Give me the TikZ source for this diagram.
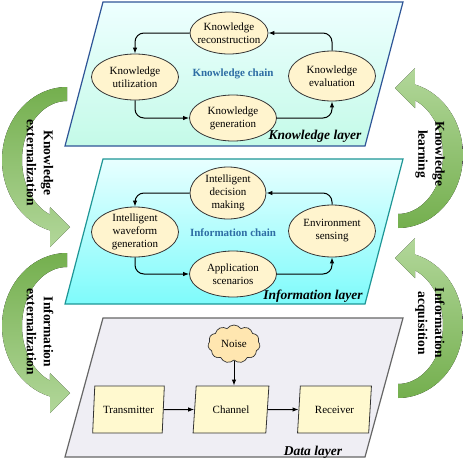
\documentclass[tikz,border=0pt]{standalone}
\usepackage{fontspec}
\setmainfont{Liberation Serif}
\usetikzlibrary{shapes.geometric,shapes.symbols,arrows.meta}
\definecolor{kborder}{HTML}{2F5597}
\definecolor{ktop}{HTML}{EEFFFF}
\definecolor{kbot}{HTML}{C4FAE8}
\definecolor{iborder}{HTML}{1E9696}
\definecolor{itop}{HTML}{E8FFFF}
\definecolor{ibot}{HTML}{7EFBFB}
\definecolor{dborder}{HTML}{666666}
\definecolor{dfill}{HTML}{EFEEF4}
\definecolor{ellfill}{HTML}{FFF4CE}
\definecolor{boxfill}{HTML}{FFF9CF}
\definecolor{cloudfill}{HTML}{FFE6B0}
\definecolor{chainblue}{HTML}{2E6DA4}
\definecolor{gdark}{HTML}{74AF4E}
\definecolor{glight}{HTML}{B2D79A}
\newcommand{\leftgreen}[1]{%
  \fill[top color=gdark, bottom color=glight]
    plot[domain=270:105,samples=50] ({67+65*cos(\x)},{#1+160+73*sin(\x)})
    -- (50,#1+247) -- (70,#1+227) -- (50,#1+207)
    -- plot[domain=112.2:270,samples=50] ({67+45*cos(\x)},{#1+160+59*sin(\x)})
    -- cycle;}
\newcommand{\rightgreen}[1]{%
  \fill[top color=glight, bottom color=gdark]
    plot[domain=450:285,samples=50] ({398+65*cos(\x)},{#1+155+73*sin(\x)})
    -- (415,#1+68) -- (395,#1+88) -- (415,#1+108)
    -- plot[domain=292.2:450,samples=50] ({398+45*cos(\x)},{#1+155+59*sin(\x)})
    -- cycle;}
\begin{document}
\begin{tikzpicture}[x=1pt,y=-1pt,
  ell/.style={ellipse, draw=black!80, line width=0.8pt, fill=ellfill, inner sep=0pt},
  etxt/.style={align=center, font=\fontsize{11}{13}\selectfont, inner sep=0pt},
  chainarr/.style={-{Latex[length=6pt,width=4.5pt]}, line width=1pt, rounded corners=9pt},
  dataarr/.style={-{Latex[length=6pt,width=4.5pt]}, line width=1pt},
  chainlbl/.style={font=\fontsize{11}{13}\selectfont\bfseries, text=chainblue},
  layerlbl/.style={font=\fontsize{13.5}{16}\selectfont\bfseries\itshape},
  greentxt/.style={rotate=-90, align=center, font=\fontsize{13.5}{17}\selectfont\bfseries},
  dbox/.style={trapezium, trapezium left angle=80, trapezium right angle=100, trapezium stretches=true,
    draw=black!80, line width=0.8pt, fill=boxfill, minimum height=47pt, inner sep=1pt,
    font=\fontsize{11}{13}\selectfont}
]
\fill[white] (0,0) rectangle (464,464);
\useasboundingbox (0,0) rectangle (464,464);

% layers
\draw[kborder, line width=1.2pt, top color=ktop, bottom color=kbot]
  (103,2) -- (403,2) -- (365,146) -- (65,146) -- cycle;
\draw[iborder, line width=1.2pt, top color=itop, bottom color=ibot]
  (103,159) -- (403,159) -- (365,304) -- (65,304) -- cycle;
\draw[dborder, line width=1.2pt, fill=dfill]
  (103,318) -- (403,318) -- (365,457) -- (65,457) -- cycle;

% green arrows
\leftgreen{0}
\leftgreen{166}
\rightgreen{0}
\rightgreen{170}
\node[greentxt] (tke) at (40,163) {Knowledge\\externalization};
\node[greentxt] (tie) at (40,332) {Information\\externalization};
\node[greentxt] (tkl) at (430,154) {Knowledge\\learning};
\node[greentxt] (tia) at (430,323) {Information\\acquisition};

% knowledge layer
\node[ell, minimum width=78pt, minimum height=42pt, label={[etxt]center:Knowledge\\reconstruction}] (recon) at (229,33) {};
\node[ell, minimum width=87pt, minimum height=46pt, label={[etxt]center:Knowledge\\utilization}] (util) at (135,77) {};
\node[ell, minimum width=87pt, minimum height=46pt, label={[etxt]center:Knowledge\\generation}] (gen) at (233,118) {};
\node[ell, minimum width=87pt, minimum height=50pt, label={[etxt]center:Knowledge\\evaluation}] (eval) at (332,76) {};
\node[chainlbl] (kchain) at (233,74) {Knowledge chain};
\node[layerlbl] (klayer) at (315,136) {Knowledge layer};
\draw[chainarr] (recon.west) -| (util.north);
\draw[chainarr] (util.south) |- (gen.west);
\draw[chainarr] (gen.east) -| (eval.south);
\draw[chainarr] (eval.north) |- (recon.east);

% information layer
\node[ell, minimum width=76pt, minimum height=52pt, label={[etxt]center:Intelligent\\decision\\making}] (dec) at (228,193) {};
\node[ell, minimum width=87pt, minimum height=50pt, label={[etxt]center:Intelligent\\waveform\\generation}] (wave) at (135,232) {};
\node[ell, minimum width=87pt, minimum height=46pt, label={[etxt]center:Application\\scenarios}] (app) at (233,274) {};
\node[ell, minimum width=87pt, minimum height=52pt, label={[etxt]center:Environment\\sensing}] (env) at (332,231) {};
\node[chainlbl] (ichain) at (233,233) {Information chain};
\node[layerlbl] (ilayer) at (313,296) {Information layer};
\draw[chainarr] (dec.west) -| (wave.north);
\draw[chainarr] (wave.south) |- (app.west);
\draw[chainarr] (app.east) -| (env.south);
\draw[chainarr] (env.north) |- (dec.east);

% data layer
\node[dbox, minimum width=72pt] (tx) at (128.5,409.5) {Transmitter};
\node[dbox, minimum width=76pt] (ch) at (231,409.5) {Channel};
\node[dbox, minimum width=74pt] (rx) at (334.5,409.5) {Receiver};
\node[cloud, cloud puffs=11, cloud puff arc=110, aspect=1.35, draw=black!80, line width=0.7pt, fill=cloudfill,
  minimum width=52pt, minimum height=38pt, inner sep=0pt, font=\fontsize{11}{13}\selectfont] (noise) at (234,344) {Noise};
\node[layerlbl] (dlayer) at (313,452) {Data layer};
\draw[dataarr] (tx.east) -- (ch.west);
\draw[dataarr] (ch.east) -- (rx.west);
\draw[dataarr] (noise.south) -- (noise.south |- ch.north);
\end{tikzpicture}
\end{document}
